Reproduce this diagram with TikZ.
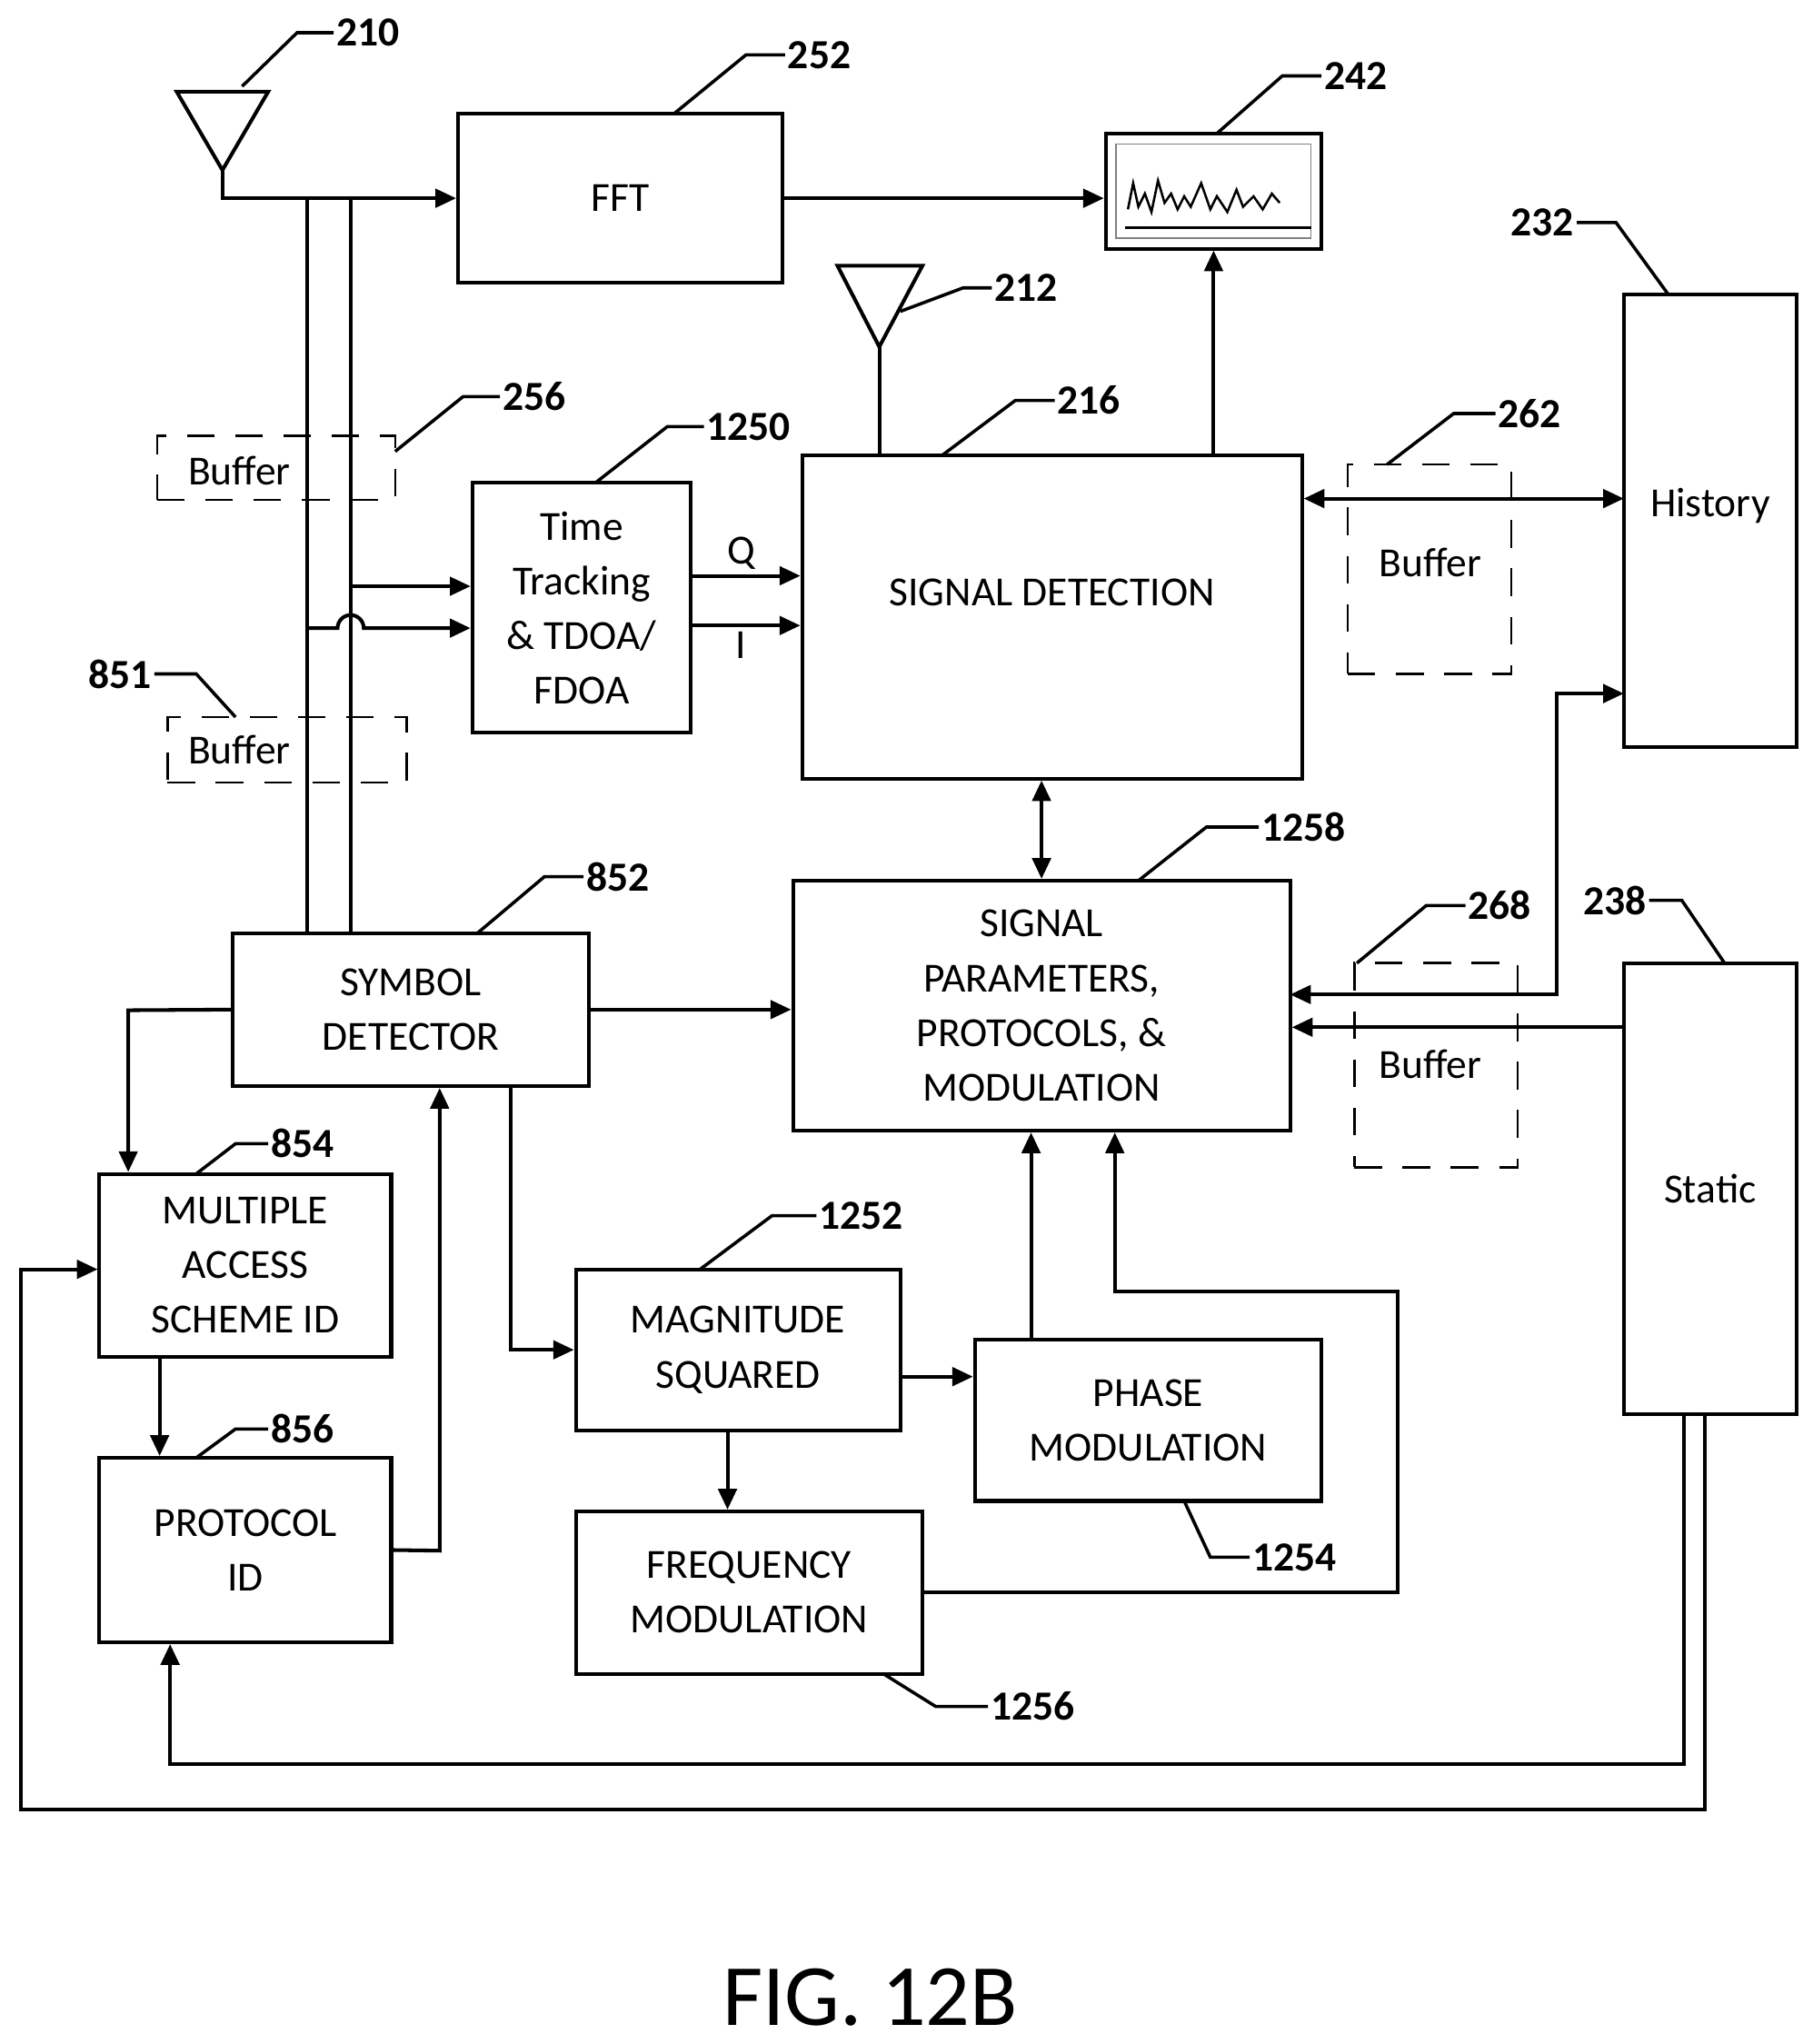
\documentclass[tikz,border=0pt]{standalone}
\usepackage{fontspec}
\setmainfont{Carlito}
\usetikzlibrary{arrows.meta}
\tikzset{%
    blk/.style={%
        draw, line width=1.6pt, align=center, inner sep=0pt, font=\fontsize{18}{23.8}\selectfont
    },
    buf/.style={%
        draw, dashed, dash pattern=on 12pt off 9pt, line width=1pt, inner sep=0pt
    },
    lbl/.style={font=\fontsize{18}{20}\selectfont\bfseries, inner sep=1pt},
    lead/.style={line width=1.4pt},
    arr/.style={line width=1.6pt, -{Triangle[length=9pt,width=8pt]}},
    dbl/.style={line width=1.6pt, {Triangle[length=9pt,width=8pt]}-{Triangle[length=9pt,width=8pt]}},
    ln/.style={line width=1.6pt}
}
\begin{document}
\begin{tikzpicture}[x=0.02cm, y=-0.02cm]
  \useasboundingbox (0,0) rectangle (1385,1562);
  % blocks
  \node[blk, minimum width=4.96cm, minimum height=2.58cm] (fft) at (474,151.5) {FFT};
  \node[blk, minimum width=3.3cm, minimum height=1.76cm] (disp) at (927.5,146) {};
  \node[blk, minimum width=7.64cm, minimum height=4.94cm] (sigdet) at (804,471.5) {SIGNAL DETECTION\\[-2pt]};
  \node[blk, minimum width=2.64cm, minimum height=6.92cm] (hist) at (1307,398) {History\\[-8pt]};
  \node[blk, minimum width=3.34cm, minimum height=3.82cm] (tt) at (444.5,464.5) {Time\\Tracking\\\& TDOA/\\FDOA};
  \node[blk, minimum width=7.6cm, minimum height=3.82cm] (sigpar) at (796,768.5) {SIGNAL\\PARAMETERS,\\PROTOCOLS, \&\\MODULATION};
  \node[blk, minimum width=5.44cm, minimum height=2.34cm] (symdet) at (314,771.5) {SYMBOL\\DETECTOR};
  \node[blk, minimum width=2.64cm, minimum height=6.9cm] (static) at (1307,908.5) {Static};
  \node[blk, minimum width=4.46cm, minimum height=2.8cm] (mas) at (187.5,967) {MULTIPLE\\ACCESS\\SCHEME ID};
  \node[blk, minimum width=4.46cm, minimum height=2.82cm] (prot) at (187.5,1184.5) {PROTOCOL\\ID};
  \node[blk, minimum width=4.96cm, minimum height=2.46cm] (magsq) at (564,1031.5) {MAGNITUDE\\SQUARED};
  \node[blk, minimum width=5.3cm, minimum height=2.46cm] (phase) at (877.5,1085.5) {PHASE\\MODULATION};
  \node[blk, minimum width=5.3cm, minimum height=2.48cm] (fm) at (572.5,1217) {FREQUENCY\\MODULATION};
  % buffers
  \node[buf, minimum width=3.64cm, minimum height=0.98cm] (buf256) at (211,357.5) {};
  \node[blk, draw=none] (tb256) at (183,360) {Buffer};
  \node[buf, minimum width=3.66cm, minimum height=1cm] (buf851) at (219.5,573) {};
  \node[blk, draw=none] (tb851) at (183,573) {Buffer};
  \node[buf, minimum width=2.5cm, minimum height=3.2cm] (buf262) at (1092.5,435) {};
  \node[blk, draw=none] (tb262) at (1093,430) {Buffer};
  \node[buf, minimum width=2.5cm, minimum height=3.12cm] (buf268) at (1097.5,814) {};
  \node[blk, draw=none] (tb268) at (1093,813) {Buffer};
  % display contents
  \draw[line width=0.6pt, gray] (853,110) rectangle (1002,182);
  \draw[line width=1pt] (862,160)--(866,140)--(870,158)--(875,148)--(880,162)--(885,138)--(890,155)--(895,148)--(900,160)--(905,150)--(910,158)--(918,140)--(925,160)--(930,150)--(938,162)--(945,145)--(950,158)--(958,150)--(965,160)--(972,148)--(978,155);
  \draw[line width=1pt] (860,174)--(1002,174);
  % antennas
  \coordinate (ant1) at (170,130);
  \coordinate (ant2) at (672,265);
  \draw[ln] (135,70) -- (205,70) -- (ant1) -- cycle;
  \draw[ln] (640,203) -- (705,203) -- (ant2) -- cycle;
  % connectors
  \draw[arr] (ant1) |- (fft.west);
  \draw[arr] (fft.east) -- (disp.west |- fft.east);
  \draw[ln] (ant2) -- (ant2 |- sigdet.north);
  \draw[arr] (disp.south |- sigdet.north) -- (disp.south);
  \coordinate (h1) at (1241,381);
  \draw[dbl] (h1 -| sigdet.east) -- (h1);
  \coordinate (v1) at (235,152);
  \coordinate (v2) at (268,152);
  \draw[ln] (v1) -- (v1 |- symdet.north);
  \draw[ln] (v2) -- (v2 |- symdet.north);
  \coordinate (q0) at (268,448);
  \draw[arr] (q0) -- (q0 -| tt.west);
  \coordinate (i0) at (235,480);
  \draw[arr] (i0) -- ++(23,0) arc[start angle=180, end angle=0, radius=0.2cm] -- (i0 -| tt.west);
  \coordinate (qy) at (0,440);
  \coordinate (iy) at (0,478);
  \draw[arr] (tt.east |- qy) -- (sigdet.west |- qy) node[pos=0.45, above, blk, draw=none, inner sep=2pt] (qlbl) {Q};
  \draw[arr] (tt.east |- iy) -- (sigdet.west |- iy) node[pos=0.45, below, blk, draw=none, inner sep=2pt] (ilbl) {I};
  \draw[dbl] (sigpar.north |- sigdet.south) -- (sigpar.north);
  \draw[arr] (symdet.east) -- (symdet.east -| sigpar.west);
  \coordinate (s0) at (1241,785);
  \draw[arr] (s0) -- (s0 -| sigpar.east);
  \coordinate (p0) at (986,760);
  \coordinate (h2) at (1241,530);
  \draw[dbl] (p0) -- ++(204,0) |- (h2);
  \coordinate (m0) at (98,772);
  \draw[arr] (symdet.west) -- (m0) -- (m0 |- mas.north);
  \coordinate (m1) at (122,1037);
  \draw[arr] (m1) -- (m1 |- prot.north);
  \coordinate (p1) at (336,1185);
  \draw[arr] (prot.east) -- (p1) -- (p1 |- symdet.south);
  \coordinate (s1) at (390,830);
  \draw[arr] (s1) |- (magsq.west);
  \coordinate (m2) at (688,1052);
  \draw[arr] (m2) -- (m2 -| phase.west);
  \coordinate (ph) at (788,1024);
  \draw[arr] (ph) -- (ph |- sigpar.south);
  \coordinate (m3) at (556,1093);
  \draw[arr] (m3) -- (m3 |- fm.north);
  \coordinate (f1) at (1068,987);
  \coordinate (f2) at (852,987);
  \draw[arr] (fm.east) -| (f1) -- (f2) -- (f2 |- sigpar.south);
  \coordinate (st1) at (1287,1081);
  \coordinate (st2) at (1303,1081);
  \coordinate (b1) at (1287,1348);
  \coordinate (b2) at (1303,1383);
  \coordinate (b3) at (130,1348);
  \coordinate (b4) at (16,1383);
  \coordinate (b5) at (16,970);
  \draw[arr] (st1) -- (b1) -- (b3) -- (b3 |- prot.south);
  \draw[arr] (st2) -- (b2) -- (b4) -- (b5) -- (b5 -| mas.west);
  % reference labels
  \node[lbl, anchor=west] (l210) at (255,25) {210};
  \draw[lead] (l210.west) -- ++(-28,0) -- (185,66);
  \node[lbl, anchor=west] (l252) at (600,42) {252};
  \draw[lead] (l252.west) -- ++(-30,0) -- (515,87);
  \node[lbl, anchor=west] (l242) at (1010,58) {242};
  \draw[lead] (l242.west) -- ++(-30,0) -- (930,102);
  \node[lbl, anchor=west] (l212) at (758,220) {212};
  \draw[lead] (l212.west) -- ++(-22,0) -- (688,238);
  \node[lbl, anchor=west] (l216) at (806,306) {216};
  \draw[lead] (l216.west) -- ++(-30,0) -- (720,348);
  \node[lbl, anchor=east] (l232) at (1205,170) {232};
  \draw[lead] (l232.east) -- ++(30,0) -- (1275,225);
  \node[lbl, anchor=west] (l262) at (1143,316) {262};
  \draw[lead] (l262.west) -- ++(-32,0) -- (1060,355);
  \node[lbl, anchor=west] (l256) at (382,303) {256};
  \draw[lead] (l256.west) -- ++(-28,0) -- (302,345);
  \node[lbl, anchor=east] (l851) at (118,515) {851};
  \draw[lead] (l851.east) -- ++(32,0) -- (180,548);
  \node[lbl, anchor=west] (l1250) at (538,326) {1250};
  \draw[lead] (l1250.west) -- ++(-28,0) -- (455,369);
  \node[lbl, anchor=west] (l1258) at (962,632) {1258};
  \draw[lead] (l1258.west) -- ++(-40,0) -- (870,673);
  \node[lbl, anchor=west] (l852) at (446,670) {852};
  \draw[lead] (l852.west) -- ++(-30,0) -- (365,713);
  \node[lbl, anchor=west] (l268) at (1120,692) {268};
  \draw[lead] (l268.west) -- ++(-30,0) -- (1037,736);
  \node[lbl, anchor=west] (l238) at (1208,688) {238};
  \draw[lead] (l238.east) -- ++(25,0) -- (1318,736);
  \node[lbl, anchor=west] (l854) at (205,874) {854};
  \draw[lead] (l854.west) -- ++(-25,0) -- (150,897);
  \node[lbl, anchor=west] (l856) at (205,1092) {856};
  \draw[lead] (l856.west) -- ++(-25,0) -- (150,1114);
  \node[lbl, anchor=west] (l1252) at (624,929) {1252};
  \draw[lead] (l1252.west) -- ++(-34,0) -- (535,970);
  \node[lbl, anchor=west] (l1254) at (955,1190) {1254};
  \draw[lead] (l1254.west) -- ++(-30,0) -- (905,1147);
  \node[lbl, anchor=west] (l1256) at (755,1304) {1256};
  \draw[lead] (l1256.west) -- ++(-40,0) -- (675,1279);
  % caption
  \node[font=\fontsize{38}{42}\selectfont] (cap) at (665,1526) {FIG. 12B};
\end{tikzpicture}
\end{document}
